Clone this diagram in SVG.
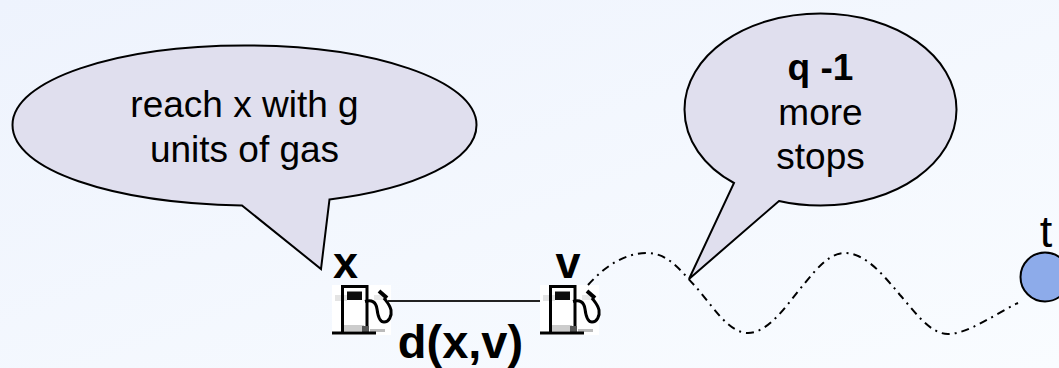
<svg xmlns="http://www.w3.org/2000/svg" width="1059" height="368" viewBox="0 0 1059 368">
<style>
text{font-family:"Liberation Sans",Arial,sans-serif;fill:#000;text-anchor:middle}
.t{font-size:37px}
.b{font-weight:bold}
.bubble{fill:#e0dfee;stroke:#000;stroke-width:2}
.wave{fill:none;stroke:#000;stroke-width:2;stroke-dasharray:8 5 2 5}
.link{fill:none;stroke:#222;stroke-width:2}
</style>
<defs>
<linearGradient id="bg" x1="0" y1="0" x2="1" y2="1">
<stop offset="0" stop-color="#eef3fd"/><stop offset="1" stop-color="#f9fcff"/>
</linearGradient>
<filter id="soft" x="-5%" y="-5%" width="110%" height="110%"><feGaussianBlur stdDeviation="0.5"/></filter>
<g id="pump" filter="url(#soft)">
<rect x="0" y="0" width="59" height="50" fill="#fff"/>
<rect x="3" y="10" width="12" height="6" fill="#e4e4e4"/>
<rect x="42" y="10" width="10" height="5" fill="#e8e8e8"/>
<path d="M10.500 47V1.500H35V47" fill="none" stroke="#000" stroke-width="3"/>
<rect x="15" y="6.500" width="15" height="8.500" fill="#111"/>
<rect x="12" y="40" width="20" height="6" fill="#ccc"/>
<rect x="30" y="41" width="7" height="6" fill="#555"/>
<rect x="38" y="44" width="15" height="3" fill="#bbb"/>
<path d="M0 48H44" stroke="#000" stroke-width="3"/>
<path d="M33 16.500C40 14.500 44 17 45 24C46 32 48 37 52 37C57 37 60 31 59 25C58 20 55 17 52 13" fill="none" stroke="#000" stroke-width="3"/>
<path d="M47 6L55 13" fill="none" stroke="#000" stroke-width="4"/>
</g>
</defs>
<rect width="1059" height="368" fill="url(#bg)"/>
<g id="node-x">
<use href="#pump" x="332" y="285"/>
<text class="b" x="345.500" y="278" font-size="45">x</text>
</g>
<g id="node-v">
<use href="#pump" x="540" y="285"/>
<text class="b" x="568" y="278" font-size="45">v</text>
</g>
<g id="connectors">
<path class="link" d="M388 301H540"/>
<path class="wave" d="M588 285C605 266 625 253 647 253C668 253 680 270 695 286C712 305 728 333 748 333C770 333 790 300 805 283C818 267 830 253 845 253C866 253 885 277 900 295C915 312 930 334 948 334C968 334 995 314 1018 303"/>
</g>
<g id="label-d"><text class="b" x="460.500" y="358" font-size="47">d(x,v)</text></g>
<g id="node-t">
<circle cx="1045" cy="277" r="24.500" fill="#8dabea" stroke="#000" stroke-width="2"/>
<text x="1046" y="247" font-size="45">t</text>
</g>
<g id="bubble-left">
<path class="bubble" d="M242 205.500C112 203 12.500 170 12.500 125C12.500 80 116 45.500 244.500 45.500C373 45.500 476.500 80 476.500 125C476.500 160 415 189 329.500 199.500L321 269Z"/>
<text class="t" x="244.500" y="117">reach x with g</text>
<text class="t" x="244.500" y="162">units of gas</text>
</g>
<g id="bubble-right">
<path class="bubble" d="M734 183C704 167 684.500 140 684.500 109.500C684.500 56 745 13.500 820.500 13.500C896 13.500 956.500 56 956.500 109.500C956.500 163 896 205.500 820.500 205.500C806 205.500 792 204 779 201L689 279Z"/>
<text class="t b" x="820.500" y="80">q -1</text>
<text class="t" x="820.500" y="125">more</text>
<text class="t" x="820.500" y="169">stops</text>
</g>
</svg>
